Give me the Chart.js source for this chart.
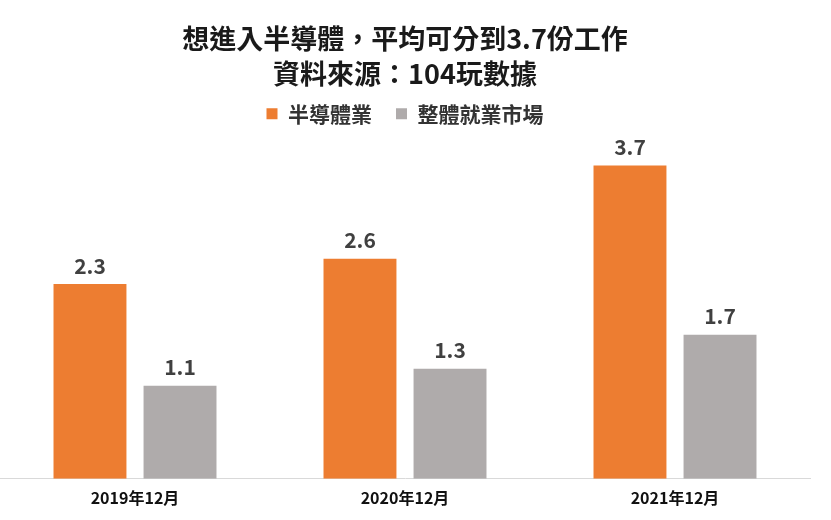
<!DOCTYPE html>
<html>
<head>
<meta charset="utf-8">
<script src="https://cdn.jsdelivr.net/npm/chart.js@4"></script>
<style>
  html, body { margin: 0; padding: 0; background: #fff; }
  #wrap { width: 831px; height: 520px; }
</style>
</head>
<body>
<div id="wrap"><canvas id="grafico"></canvas></div>
<script>
const categorias = ['2019年12月', '2020年12月', '2021年12月'];
const semiconductor = [2.3, 2.6, 3.7];
const mercadoTotal = [1.1, 1.3, 1.7];
const titulo = ['想進入半導體，平均可分到3.7份工作', '資料來源：104玩數據'];

const fuente = "'Noto Sans CJK TC', 'Noto Sans', sans-serif";

// dibuja el valor encima de cada barra
const etiquetasValor = {
  id: 'etiquetasValor',
  afterDatasetsDraw(chart) {
    const ctx = chart.ctx;
    ctx.save();
    ctx.font = 'bold 21px ' + fuente;
    ctx.fillStyle = '#404040';
    ctx.textAlign = 'center';
    ctx.textBaseline = 'bottom';
    chart.data.datasets.forEach((ds, i) => {
      chart.getDatasetMeta(i).data.forEach((bar, j) => {
        ctx.fillText(ds.data[j].toFixed(1), bar.x, bar.y - 8);
      });
    });
    ctx.restore();
  }
};

new Chart(document.getElementById('grafico'), {
  type: 'bar',
  data: {
    labels: categorias,
    datasets: [{
      label: '半導體業',
      data: semiconductor,
      backgroundColor: '#ED7D31',
      categoryPercentage: 0.667,
      barPercentage: 0.81
    }, {
      label: '整體就業市場',
      data: mercadoTotal,
      backgroundColor: '#AFABAB',
      categoryPercentage: 0.667,
      barPercentage: 0.81
    }]
  },
  options: {
    responsive: true,
    maintainAspectRatio: false,
    animation: false,
    layout: { padding: { left: 0, right: 21, top: 21, bottom: 2 } },
    plugins: {
      title: {
        display: true,
        text: titulo,
        color: '#1a1a1a',
        font: { family: fuente, size: 27, weight: 'bold', lineHeight: 1.3 },
        padding: { top: 0, bottom: -12 }
      },
      legend: {
        display: true,
        labels: {
          color: '#333',
          font: { family: fuente, size: 21, weight: 'bold' },
          boxWidth: 11,
          boxHeight: 11,
          padding: 24
        }
      },
      tooltip: { enabled: false }
    },
    scales: {
      x: {
        grid: { display: false, drawTicks: false },
        border: { display: true, color: '#d9d9d9', width: 1 },
        ticks: {
          color: '#111',
          font: { family: fuente, size: 16, weight: 'bold' },
          padding: 10
        }
      },
      y: {
        display: false,
        min: 0,
        max: 4.07
      }
    }
  },
  plugins: [etiquetasValor]
});
</script>
</body>
</html>
